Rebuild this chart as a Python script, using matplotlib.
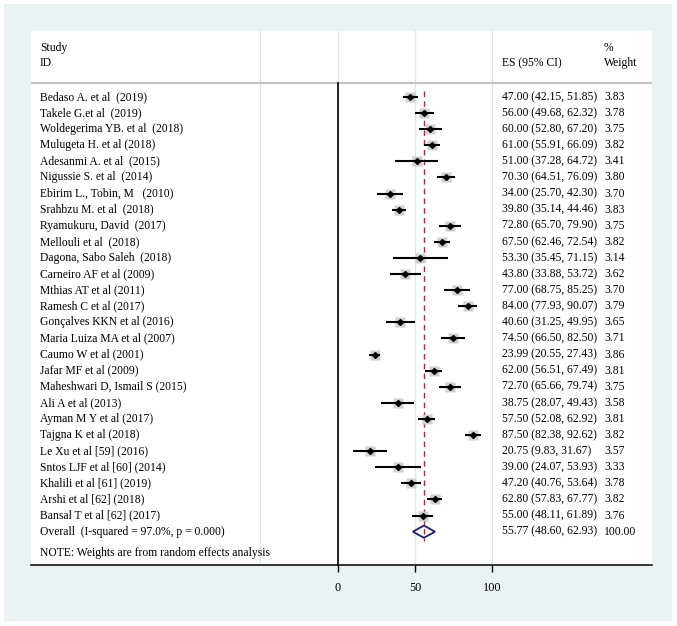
import matplotlib
matplotlib.use("Agg")
import matplotlib.pyplot as plt
from matplotlib.patches import Rectangle, Polygon
import numpy as np

studies = [
    "Bedaso A. et al  (2019)", "Takele G.et al  (2019)", "Woldegerima YB. et al  (2018)",
    "Mulugeta H. et al (2018)", "Adesanmi A. et al  (2015)", "Nigussie S. et al  (2014)",
    "Ebirim L., Tobin, M   (2010)", "Srahbzu M. et al  (2018)", "Ryamukuru, David  (2017)",
    "Mellouli et al  (2018)", "Dagona, Sabo Saleh  (2018)", "Carneiro AF et al (2009)",
    "Mthias AT et al (2011)", "Ramesh C et al (2017)", "Gonçalves KKN et al (2016)",
    "Maria Luiza MA et al (2007)", "Caumo W et al (2001)", "Jafar MF et al (2009)",
    "Maheshwari D, Ismail S (2015)", "Ali A et al (2013)", "Ayman M Y et al (2017)",
    "Tajgna K et al (2018)", "Le Xu et al [59] (2016)", "Sntos LJF et al [60] (2014)",
    "Khalili et al [61] (2019)", "Arshi et al [62] (2018)", "Bansal T et al [62] (2017)",
]
es = [47.00, 56.00, 60.00, 61.00, 51.00, 70.30, 34.00, 39.80, 72.80, 67.50, 53.30, 43.80,
      77.00, 84.00, 40.60, 74.50, 23.99, 62.00, 72.70, 38.75, 57.50, 87.50, 20.75, 39.00,
      47.20, 62.80, 55.00]
lo = [42.15, 49.68, 52.80, 55.91, 37.28, 64.51, 25.70, 35.14, 65.70, 62.46, 35.45, 33.88,
      68.75, 77.93, 31.25, 66.50, 20.55, 56.51, 65.66, 28.07, 52.08, 82.38, 9.83, 24.07,
      40.76, 57.83, 48.11]
hi = [51.85, 62.32, 67.20, 66.09, 64.72, 76.09, 42.30, 44.46, 79.90, 72.54, 71.15, 53.72,
      85.25, 90.07, 49.95, 82.50, 27.43, 67.49, 79.74, 49.43, 62.92, 92.62, 31.67, 53.93,
      53.64, 67.77, 61.89]
weights = [3.83, 3.78, 3.75, 3.82, 3.41, 3.80, 3.70, 3.83, 3.75, 3.82, 3.14, 3.62, 3.70,
           3.79, 3.65, 3.71, 3.86, 3.81, 3.75, 3.58, 3.81, 3.82, 3.57, 3.33, 3.78, 3.82, 3.76]
overall_label = "Overall  (I-squared = 97.0%, p = 0.000)"
overall_es, overall_lo, overall_hi, overall_w = 55.77, 48.60, 62.93, 100.00
xticks = [0, 50, 100]
gridx = [-50, 0, 50, 100]

plt.rcParams['font.family'] = ['Liberation Serif', 'DejaVu Serif']
FS = 8.4

W, H = 677, 626
fig = plt.figure(figsize=(W / 100, H / 100), dpi=100)
fig.patch.set_facecolor('white')
fig.add_artist(Rectangle((4 / W, 1 - 621 / H), (672 - 4) / W, (621 - 4) / H,
                         transform=fig.transFigure, facecolor='#eaf2f3',
                         edgecolor='none', zorder=0))

ax = fig.add_axes([31 / W, 1 - 565 / H, (652 - 31) / W, (565 - 31) / H])
ax.set_facecolor('white')
ax.set_zorder(1)
ax.set_xlim(-198.4, 203.3)
ax.set_ylim(29.07, -4.1)
for s in ['top', 'right', 'left']:
    ax.spines[s].set_visible(False)
ax.spines['bottom'].set_color('black')
ax.spines['bottom'].set_linewidth(1.1)
ax.set_yticks([])
ax.set_xticks(xticks)
ax.set_xticklabels([str(t) for t in xticks], fontsize=FS + 0.4)
ax.tick_params(axis='x', length=5, width=1.0, color='black', pad=7)

# gridlines
for gx in gridx:
    ax.axvline(gx, color='#dce6e8', lw=0.9, zorder=1)

# header
ax.text(-192.6, -3.05, "Study", fontsize=FS, va='center', ha='left')
ax.text(-192.6, -2.1, "ID", fontsize=FS, va='center', ha='left')
ax.text(106.1, -2.1, "ES (95% CI)", fontsize=FS, va='center', ha='left')
ax.text(172.2, -3.05, "%", fontsize=FS, va='center', ha='left')
ax.text(172.2, -2.1, "Weight", fontsize=FS, va='center', ha='left')
ax.axhline(-0.87, color='#c4c4c4', lw=1.6, zorder=2)

# zero line
ax.plot([0, 0], [-0.87, 29.07], color='black', lw=1.2, zorder=3, clip_on=False)

# overall reference line
ax.plot([overall_es, overall_es], [-0.35, 27.55], color='#a0303a', lw=1.0,
        ls=(0, (4, 3)), zorder=4)

n = len(studies)
for i in range(n):
    y = i
    ax.plot(es[i], y, marker='s', ms=3.9 * np.sqrt(weights[i]), color='#cfcfcf',
            mec='none', zorder=5)
    ax.plot([lo[i], hi[i]], [y, y], color='black', lw=1.5, zorder=6,
            solid_capstyle='butt')
    ax.plot(es[i], y, marker='D', ms=3.0, color='black', zorder=7)
    ax.text(-192.6, y, studies[i], fontsize=FS, va='center', ha='left')
    ax.text(106.1, y, f"{es[i]:.2f} ({lo[i]:.2f}, {hi[i]:.2f})", fontsize=FS,
            va='center', ha='left')
    ax.text(172.2, y, f"{weights[i]:.2f}", fontsize=FS, va='center', ha='left')

yo = n
dh = 0.38
ax.add_patch(Polygon([[overall_lo, yo], [overall_es, yo - dh], [overall_hi, yo],
                      [overall_es, yo + dh]], closed=True, facecolor='none',
                     edgecolor='#1c1c7a', lw=1.3, zorder=8))
ax.text(-192.6, yo, overall_label, fontsize=FS, va='center', ha='left')
ax.text(106.1, yo, f"{overall_es:.2f} ({overall_lo:.2f}, {overall_hi:.2f})",
        fontsize=FS, va='center', ha='left')
ax.text(172.2, yo, f"{overall_w:.2f}", fontsize=FS, va='center', ha='left')

ax.text(-192.6, 28.35, "NOTE: Weights are from random effects analysis", fontsize=FS,
        va='center', ha='left')

fig.savefig("out.png", dpi=100, facecolor='white')
